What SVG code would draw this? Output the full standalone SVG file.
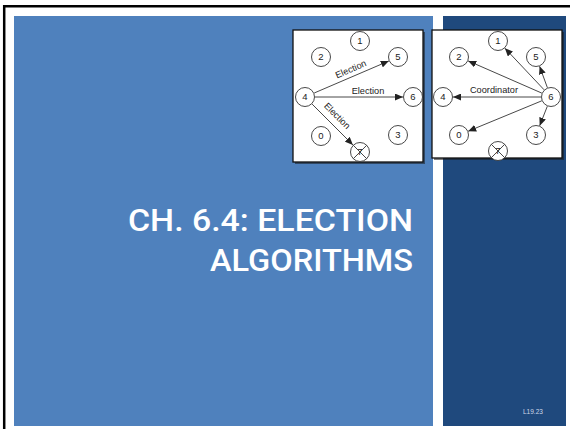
<svg xmlns="http://www.w3.org/2000/svg" width="570" height="429" viewBox="0 0 570 429">
  <style>
    .frame { fill: none; stroke: #000; stroke-width: 2.5; }
    .panel { fill: #fff; stroke: #111; stroke-width: 1.3; }
    .shadow { fill: #1a1a1a; opacity: 0.55; }
    .node circle { fill: #fff; stroke: #333; stroke-width: 0.9; }
    .node text { font-family: "Liberation Sans", Arial, sans-serif; font-size: 9.5px; fill: #222; text-anchor: middle; }
    .cross { stroke: #333; stroke-width: 0.9; }
    .edge { stroke: #333; stroke-width: 0.9; fill: none; marker-end: url(#arrow); }
    .lbl { font-family: "Liberation Sans", Arial, sans-serif; font-size: 9.2px; fill: #222; text-anchor: middle; }
    .title { font-family: Roboto, "Liberation Sans", sans-serif; font-weight: 500; font-size: 31px; fill: #fff; text-anchor: end; }
    .slideno { font-family: "Liberation Sans", Arial, sans-serif; font-size: 6.5px; fill: #d0d8e8; }
  </style>
  <defs>
    <marker id="arrow" markerUnits="userSpaceOnUse" markerWidth="9" markerHeight="7" refX="8" refY="3.5" orient="auto">
      <path d="M0,0 L8,3.5 L0,7 Z" fill="#222"/>
    </marker>
  </defs>

  <!-- slide background -->
  <rect x="0" y="0" width="570" height="429" fill="#fff"/>
  <rect x="14" y="16" width="419" height="410" fill="#4F81BD"/>
  <rect x="443" y="16" width="123" height="410" fill="#1F497D"/>
  <path class="frame" d="M4.2,429 V6.2 H570"/>

  <!-- title -->
  <text class="title" x="413" y="231" textLength="285" lengthAdjust="spacingAndGlyphs">CH. 6.4: ELECTION</text>
  <text class="title" x="413" y="271" textLength="203" lengthAdjust="spacingAndGlyphs">ALGORITHMS</text>
  <text class="slideno" x="523" y="414">L19.23</text>

  <!-- left panel: election messages from node 4 -->
  <rect class="shadow" x="295" y="32" width="130" height="132"/>
  <rect class="panel" x="293" y="30" width="130" height="132"/>
  <g id="left-edges">
    <line class="edge" x1="314.2" y1="93" x2="388.8" y2="61"/>
    <line class="edge" x1="315" y1="97" x2="403" y2="97"/>
    <line class="edge" x1="312.1" y1="104.1" x2="352.9" y2="144.9"/>
    <text class="lbl" transform="translate(352,72) rotate(-23)">Election</text>
    <text class="lbl" x="368" y="94">Election</text>
    <text class="lbl" transform="translate(335,118) rotate(45)">Election</text>
  </g>
  <g id="L1" class="node"><circle cx="360" cy="41" r="9.5"/><text x="360" y="44.4">1</text></g>
  <g id="L2" class="node"><circle cx="321" cy="57" r="9.5"/><text x="321" y="60.4">2</text></g>
  <g id="L5" class="node"><circle cx="398" cy="57" r="9.5"/><text x="398" y="60.4">5</text></g>
  <g id="L4" class="node"><circle cx="305" cy="97" r="9.5"/><text x="305" y="100.4">4</text></g>
  <g id="L6" class="node"><circle cx="413" cy="97" r="9.5"/><text x="413" y="100.4">6</text></g>
  <g id="L0" class="node"><circle cx="321" cy="136" r="9.5"/><text x="321" y="139.4">0</text></g>
  <g id="L3" class="node"><circle cx="398" cy="135" r="9.5"/><text x="398" y="138.4">3</text></g>
  <g id="L7" class="node"><circle cx="360" cy="152" r="9.5"/><text x="360" y="155.4">7</text>
    <line class="cross" x1="353.3" y1="145.3" x2="366.7" y2="158.7"/>
    <line class="cross" x1="366.7" y1="145.3" x2="353.3" y2="158.7"/>
  </g>

  <!-- right panel: coordinator messages from node 6 -->
  <rect class="shadow" x="434" y="32" width="130" height="128"/>
  <rect class="panel" x="432" y="30" width="130" height="128"/>
  <g id="right-edges">
    <line class="edge" x1="544.1" y1="89.8" x2="504.9" y2="48.2"/>
    <line class="edge" x1="547.4" y1="87.7" x2="539.6" y2="66.3"/>
    <line class="edge" x1="541.8" y1="93.1" x2="468.2" y2="60.9"/>
    <line class="edge" x1="541" y1="97" x2="453" y2="97"/>
    <line class="edge" x1="541.8" y1="100.8" x2="468.2" y2="131.2"/>
    <line class="edge" x1="547.3" y1="106.3" x2="539.7" y2="125.7"/>
    <text class="lbl" x="494" y="93">Coordinator</text>
  </g>
  <g id="R1" class="node"><circle cx="498" cy="41" r="9.5"/><text x="498" y="44.4">1</text></g>
  <g id="R2" class="node"><circle cx="459" cy="57" r="9.5"/><text x="459" y="60.4">2</text></g>
  <g id="R5" class="node"><circle cx="536" cy="57" r="9.5"/><text x="536" y="60.4">5</text></g>
  <g id="R4" class="node"><circle cx="443" cy="97" r="9.5"/><text x="443" y="100.4">4</text></g>
  <g id="R6" class="node"><circle cx="551" cy="97" r="9.5"/><text x="551" y="100.4">6</text></g>
  <g id="R0" class="node"><circle cx="459" cy="135" r="9.5"/><text x="459" y="138.4">0</text></g>
  <g id="R3" class="node"><circle cx="536" cy="135" r="9.5"/><text x="536" y="138.4">3</text></g>
  <g id="R7" class="node"><circle cx="498" cy="151" r="9.5"/><text x="498" y="154.4">7</text>
    <line class="cross" x1="491.3" y1="144.3" x2="504.7" y2="157.7"/>
    <line class="cross" x1="504.7" y1="144.3" x2="491.3" y2="157.7"/>
  </g>
</svg>
